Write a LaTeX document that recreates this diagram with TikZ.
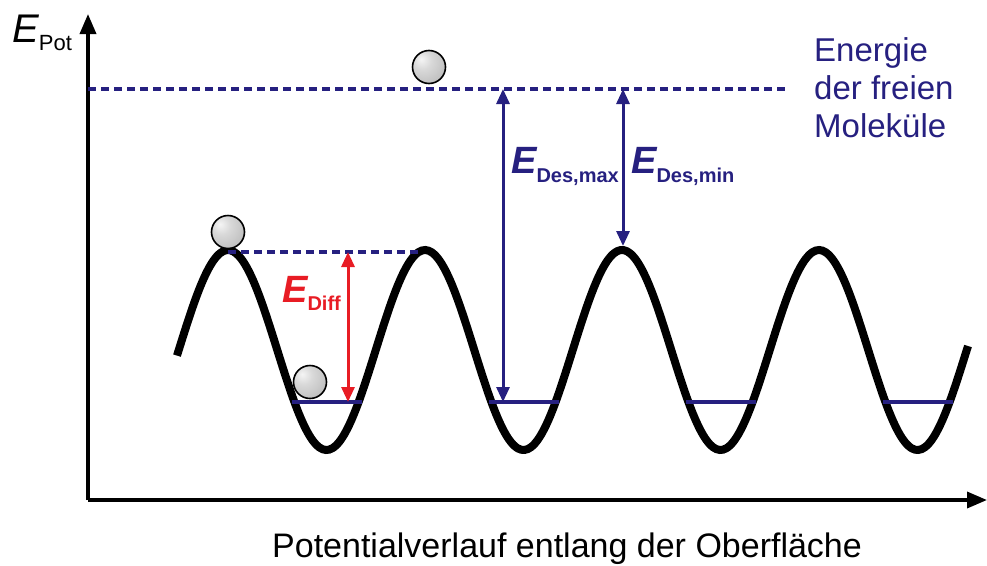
\documentclass[tikz,border=0pt]{standalone}
\usepackage{fontspec}
\setmainfont{Liberation Sans}
\usetikzlibrary{arrows.meta}
\definecolor{navy}{RGB}{38,32,128}
\definecolor{ered}{RGB}{232,28,36}
\pgfdeclareradialshading{silverball}{\pgfpoint{-12bp}{12bp}}{color(0bp)=(gray!8); color(14bp)=(gray!30); color(40bp)=(gray!55); color(62bp)=(gray!80); color(100bp)=(gray!80)}
\newcommand{\fsz}[1]{\fontsize{#1}{#1}\selectfont}
\tikzset{
  axis/.style={line width=3.5pt, -{Triangle[length=20pt,width=16pt]}},
  wave/.style={line width=8pt, black},
  lvl/.style={navy, line width=3.4pt},
  dashlvl/.style={navy, line width=3.2pt, dash pattern=on 8pt off 5pt},
  darr/.style={line width=3pt, {Triangle[length=15pt,width=13pt]}-{Triangle[length=15pt,width=13pt]}},
  ballnode/.style={circle, minimum size=33pt, inner sep=0pt, draw=black, line width=1.6pt, shading=silverball},
  lab/.style={inner sep=0pt, anchor=base west},
}
\begin{document}
\begin{tikzpicture}[x=1pt,y=-1pt]
\useasboundingbox (0,0) rectangle (987,565);
% axes
\coordinate (O) at (88,500);
\coordinate (ytop) at (88,14);
\coordinate (xend) at (987,500);
\draw[axis] (O) -- (ytop);
\draw[axis] (O) -- (xend);
% top dashed level
\coordinate (dl) at (88,89);
\coordinate (dr) at (785,89);
\draw[dashlvl] (dl) -- (dr);
% wave
\draw[wave] plot[domain=177:968, samples=240, smooth] (\x, {350 - 100*cos(1.82741*(\x-228))});
% diffusion dashed level
\coordinate (p1) at (228,252);
\coordinate (p2) at (422,252);
\draw[dashlvl] (p1) -- (p2);
% trough levels
\foreach \c/\n in {326.5/a,523.5/b,720.5/c,917.5/d}{
  \coordinate (t\n l) at (\c-35,402);
  \coordinate (t\n r) at (\c+35,402);
  \draw[lvl] (t\n l) -- (t\n r);
}
% arrows
\coordinate (rtop) at (348,252);
\coordinate (rbot) at (348,402);
\draw[darr, ered] (rtop) -- (rbot);
\coordinate (mtop) at (503,89);
\coordinate (mbot) at (503,402);
\draw[darr, navy] (mtop) -- (mbot);
\coordinate (ntop) at (623,89);
\coordinate (nbot) at (623,246);
\draw[darr, navy] (ntop) -- (nbot);
% balls
\node[ballnode] (ball1) at (228,232) {};
\node[ballnode] (ball2) at (310,382) {};
\node[ballnode] (ball3) at (429,67) {};
% labels
\node[lab] (epot) at (12,42) {\fsz{40}\itshape E\upshape\raisebox{-8pt}{\fsz{22}Pot}};
\node[lab, ered] (ediff) at (282,302) {\fsz{38}\bfseries\itshape E\upshape\raisebox{-8pt}{\fsz{20}Diff}};
\node[lab, navy] (emax) at (511,173) {\fsz{38}\bfseries\itshape E\upshape\raisebox{-9pt}{\fsz{20}Des,max}};
\node[lab, navy] (emin) at (631,173) {\fsz{38}\bfseries\itshape E\upshape\raisebox{-9pt}{\fsz{20}Des,min}};
\node[inner sep=0pt, anchor=north west, navy, align=left, font=\fsz{33}] (efree) at (814,37) {Energie\\[5pt]der freien\\[5pt]Molek\"ule};
\node[lab] (xlab) at (272,557) {\fsz{34}Potentialverlauf entlang der Oberfl\"ache};
\end{tikzpicture}
\end{document}
